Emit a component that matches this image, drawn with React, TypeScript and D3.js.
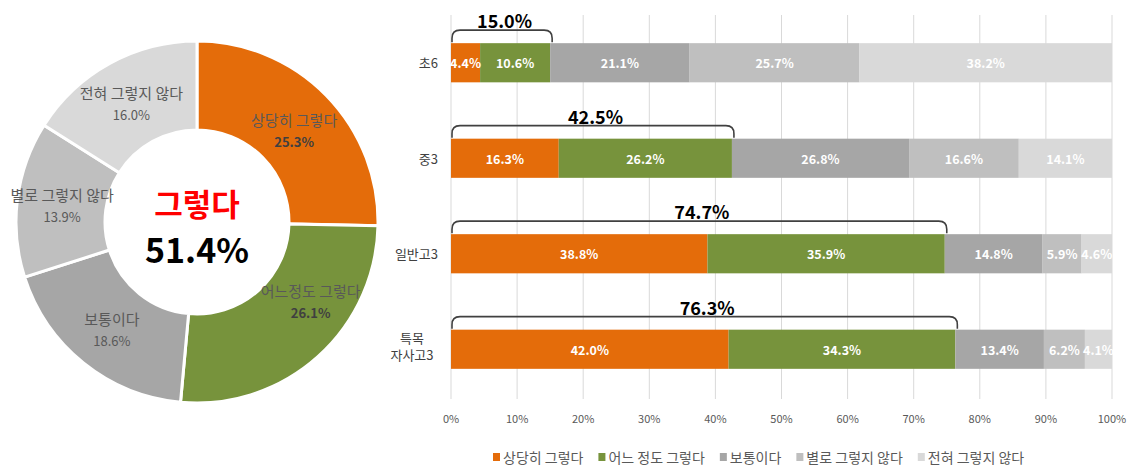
import React, { useEffect } from "react";
import * as d3 from "d3";

const seriesNames = ["상당히 그렇다", "어느 정도 그렇다", "보통이다", "별로 그렇지 않다", "전혀 그렇지 않다"];
const donutNames = ["상당히 그렇다", "어느정도 그렇다", "보통이다", "별로 그렇지 않다", "전혀 그렇지 않다"];
const donutValues = [25.3, 26.1, 18.6, 13.9, 16.0];
const donutCenterTitle = "그렇다";
const donutCenterValue = "51.4%";

const categories = ["초6", "중3", "일반고3", "특목\n자사고3"];
const vStrong = [4.4, 16.3, 38.8, 42.0];
const vSome = [10.6, 26.2, 35.9, 34.3];
const vNeutral = [21.1, 26.8, 14.8, 13.4];
const vNotMuch = [25.7, 16.6, 5.9, 6.2];
const vNotAtAll = [38.2, 14.1, 4.6, 4.1];
const bracketTotals = [15.0, 42.5, 74.7, 76.3];
const xTicks = [0, 10, 20, 30, 40, 50, 60, 70, 80, 90, 100];

const colors = ["#E46C0A", "#77933C", "#A6A6A6", "#BFBFBF", "#D9D9D9"];
const donutLabelNudge: [number, number][] = [[0, 3], [23, -23], [0, 0], [0, 0], [0, 0]];
const donutValueBold = [true, true, false, false, false];

const W = 1134;
const H = 468;
const FONT = "'Noto Sans CJK KR', 'Noto Sans', sans-serif";

export default function App() {
  useEffect(() => {
    document.body.style.margin = "0";
  }, []);

  // Donut
  const cx = 197, cy = 222, rOuter = 181, rInner = 92;
  const pie = d3.pie<number>().sort(null).value((d) => d);
  const arcs = pie(donutValues);
  const arcGen = d3.arc<d3.PieArcDatum<number>>().innerRadius(rInner).outerRadius(rOuter);
  const labelArc = d3.arc<d3.PieArcDatum<number>>().innerRadius(136).outerRadius(136);

  // Bars
  const x = d3.scaleLinear().domain([0, 100]).range([451, 1112]);
  const y = d3.scaleBand<string>().domain(categories).range([15, 397]).paddingInner(0.59).paddingOuter(0.295);
  const series = [vStrong, vSome, vNeutral, vNotMuch, vNotAtAll];
  const rows = categories.map((c, i) => {
    const obj: any = { cat: c };
    seriesNames.forEach((n, k) => (obj[n] = series[k][i]));
    return obj;
  });
  const stacked = d3.stack<any>().keys(seriesNames)(rows);

  // Legend layout (measure text)
  const canvas = typeof document !== "undefined" ? document.createElement("canvas") : null;
  const ctx = canvas ? canvas.getContext("2d") : null;
  if (ctx) ctx.font = `14px ${FONT}`;
  let lx = 493;
  const legendItems = seriesNames.map((n, i) => {
    const w = ctx ? ctx.measureText(n).width : n.length * 14;
    const item = { n, i, x: lx };
    lx += 8 + 3 + w + 14;
    return item;
  });

  const bracketPath = (total: number, top: number, bottom: number) => {
    const x0 = x(0) + 1;
    const x1 = x(total) + 2;
    const r = 8;
    return `M${x0},${bottom} L${x0},${top + r} Q${x0},${top} ${x0 + r},${top} L${x1 - r},${top} Q${x1},${top} ${x1},${top + r} L${x1},${bottom}`;
  };

  return (
    <svg width={W} height={H} viewBox={`0 0 ${W} ${H}`} style={{ display: "block", fontFamily: FONT }}>
      <rect width={W} height={H} fill="#fff" />
      {/* Donut */}
      <g>
        {arcs.map((a, i) => (
          <path key={i} d={arcGen(a) || ""} transform={`translate(${cx},${cy})`} fill={colors[i]} stroke="#fff" strokeWidth={3} />
        ))}
        {arcs.map((a, i) => {
          const [lxp, lyp] = labelArc.centroid(a);
          const px = cx + lxp + donutLabelNudge[i][0];
          const py = cy + lyp + donutLabelNudge[i][1];
          return (
            <g key={"l" + i}>
              <text x={px} y={py - 10} textAnchor="middle" dominantBaseline="central" fontSize={15} fill="#595959">
                {donutNames[i]}
              </text>
              <text
                x={px}
                y={py + 12}
                textAnchor="middle"
                dominantBaseline="central"
                fontSize={13}
                fontWeight={donutValueBold[i] ? 700 : 400}
                fill={donutValueBold[i] ? "#404040" : "#595959"}
              >
                {d3.format(".1f")(donutValues[i])}%
              </text>
            </g>
          );
        })}
        <text x={cx} y={cy - 20} textAnchor="middle" dominantBaseline="central" fontSize={31} fontWeight={700} fill="#FF0000">
          {donutCenterTitle}
        </text>
        <text x={cx} y={cy + 26} textAnchor="middle" dominantBaseline="central" fontSize={34} fontWeight={700} fill="#000">
          {donutCenterValue}
        </text>
      </g>

      {/* Grid */}
      <g>
        {xTicks.map((t) => (
          <line key={t} x1={x(t)} x2={x(t)} y1={15} y2={399} stroke="#D9D9D9" strokeWidth={1} />
        ))}
        {xTicks.map((t) => (
          <text key={"t" + t} x={x(t)} y={418} textAnchor="middle" dominantBaseline="central" fontSize={11} fill="#595959">
            {t}%
          </text>
        ))}
      </g>

      {/* Bars */}
      <g>
        {stacked.map((s, k) => (
          <g key={k}>
            {s.map((d, i) => {
              const x0 = x(d[0]);
              const x1 = x(d[1]);
              const yy = y(categories[i])!;
              return <rect key={i} x={x0} y={yy} width={x1 - x0} height={y.bandwidth()} fill={colors[k]} />;
            })}
          </g>
        ))}
        {stacked.map((s, k) => (
          <g key={"lab" + k}>
            {s.map((d, i) => {
              const x0 = x(d[0]);
              const x1 = x(d[1]);
              const yy = y(categories[i])! + y.bandwidth() / 2;
              return (
                <text key={i} x={(x0 + x1) / 2} y={yy} textAnchor="middle" dominantBaseline="central" fontSize={12.5} fontWeight={700} fill="#fff">
                  {d3.format(".1f")(series[k][i])}%
                </text>
              );
            })}
          </g>
        ))}
      </g>

      {/* Brackets */}
      <g>
        {bracketTotals.map((t, i) => {
          const top = y(categories[i])! - 13;
          const bottom = y(categories[i])! - 1;
          return (
            <g key={i}>
              <path d={bracketPath(t, top, bottom)} fill="none" stroke="#404040" strokeWidth={1.6} />
              <text x={(x(0) + x(t)) / 2 + 4} y={top - 2} textAnchor="middle" fontSize={18} fontWeight={700} fill="#000">
                {d3.format(".1f")(t)}%
              </text>
            </g>
          );
        })}
      </g>

      {/* Y labels */}
      <g>
        {categories.map((c, i) => {
          const lines = c.split("\n");
          const yc = y(c)! + y.bandwidth() / 2;
          if (lines.length === 1) {
            return (
              <text key={i} x={438} y={yc} textAnchor="end" dominantBaseline="central" fontSize={13} fill="#404040">
                {c}
              </text>
            );
          }
          return (
            <g key={i}>
              {lines.map((ln, j) => (
                <text key={j} x={412} y={yc - 12 + j * 17} textAnchor="middle" dominantBaseline="central" fontSize={13} fill="#404040">
                  {ln}
                </text>
              ))}
            </g>
          );
        })}
      </g>

      {/* Legend */}
      <g>
        {legendItems.map((it) => (
          <g key={it.i}>
            <rect x={it.x} y={453} width={7} height={8} fill={colors[it.i]} />
            <text x={it.x + 10} y={457} dominantBaseline="central" fontSize={14} fill="#595959">
              {it.n}
            </text>
          </g>
        ))}
      </g>
    </svg>
  );
}
